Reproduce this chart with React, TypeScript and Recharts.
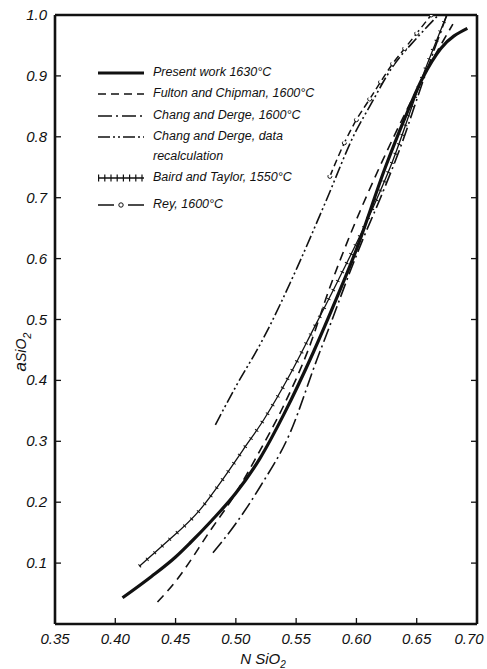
import { LineChart, Line, XAxis, YAxis } from "recharts";

const FONT = '"Liberation Sans", Arial, sans-serif';
const INK = "#111";

// axis ticks
const xTicks = [0.35, 0.4, 0.45, 0.5, 0.55, 0.6, 0.65, 0.7];
const topTicks = [0.4, 0.45, 0.5, 0.55, 0.6, 0.65];
const yTicks = [0.1, 0.2, 0.3, 0.4, 0.5, 0.6, 0.7, 0.8, 0.9, 1.0];

// Present work 1630°C
const presentX = [0.406, 0.43, 0.45, 0.462, 0.48, 0.5, 0.52, 0.54, 0.564, 0.584, 0.6, 0.624, 0.64, 0.655, 0.67, 0.692];
const presentY = [0.043, 0.078, 0.11, 0.133, 0.17, 0.215, 0.272, 0.345, 0.445, 0.537, 0.615, 0.75, 0.83, 0.897, 0.945, 0.978];

// Fulton and Chipman, 1600°C
const fultonX = [0.435, 0.45, 0.479, 0.5, 0.517, 0.54, 0.56, 0.578, 0.595, 0.618, 0.642, 0.66, 0.68];
const fultonY = [0.036, 0.07, 0.154, 0.215, 0.274, 0.36, 0.45, 0.553, 0.64, 0.745, 0.845, 0.915, 0.985];

// Chang and Derge, 1600°C
const changX = [0.481, 0.5, 0.52, 0.545, 0.567, 0.578, 0.595, 0.605, 0.62, 0.636, 0.655, 0.675];
const changY = [0.117, 0.165, 0.225, 0.314, 0.433, 0.49, 0.58, 0.63, 0.7, 0.78, 0.89, 1.0];

// Chang and Derge, data recalculation
const recalcX = [0.483, 0.5, 0.522, 0.551, 0.574, 0.6, 0.611, 0.63, 0.65, 0.668];
const recalcY = [0.327, 0.39, 0.466, 0.586, 0.691, 0.811, 0.85, 0.915, 0.962, 1.0];

// Baird and Taylor, 1550°C
const bairdX = [0.42, 0.44, 0.47, 0.49, 0.506, 0.523, 0.545, 0.564, 0.585, 0.609, 0.63, 0.655, 0.675];
const bairdY = [0.095, 0.13, 0.187, 0.24, 0.286, 0.335, 0.41, 0.483, 0.565, 0.663, 0.76, 0.9, 1.0];

// Rey, 1600°C
const reyX = [0.578, 0.59, 0.6, 0.611, 0.62, 0.63, 0.64, 0.65, 0.662];
const reyY = [0.735, 0.79, 0.828, 0.862, 0.89, 0.92, 0.945, 0.97, 1.0];

const zip = (xs: number[], ys: number[]) => xs.map((x, i) => ({ x, y: ys[i] }));

const present = zip(presentX, presentY);
const fulton = zip(fultonX, fultonY);
const chang = zip(changX, changY);
const recalc = zip(recalcX, recalcY);
const baird = zip(bairdX, bairdY);
const rey = zip(reyX, reyY);

const M = 8; // tickMargin used on every axis
const TL = 6; // inward tick length

const BottomTick = ({ x, y, payload }: any) => {
  const ay = y - M;
  const v = Number(payload.value);
  // the last label sits a little left so it stays inside the page
  const tx = v >= 0.7 ? x - 8 : x;
  return (
    <g>
      <line x1={x} x2={x} y1={ay} y2={ay - TL} stroke={INK} strokeWidth={1.3} />
      <text x={tx} y={ay + 20} textAnchor="middle" fontSize={15} fontStyle="italic" fontFamily={FONT} fill={INK}>
        {v.toFixed(2)}
      </text>
    </g>
  );
};

const TopTick = ({ x, y }: any) => {
  const ay = y + M;
  return <line x1={x} x2={x} y1={ay} y2={ay + TL} stroke={INK} strokeWidth={1.3} />;
};

const LeftTick = ({ x, y, payload }: any) => {
  const ax = x + M;
  return (
    <g>
      <line x1={ax} x2={ax + TL} y1={y} y2={y} stroke={INK} strokeWidth={1.3} />
      <text x={ax - 8} y={y + 5} textAnchor="end" fontSize={15} fontStyle="italic" fontFamily={FONT} fill={INK}>
        {Number(payload.value).toFixed(1)}
      </text>
    </g>
  );
};

const RightTick = ({ x, y }: any) => {
  const ax = x - M;
  return <line x1={ax} x2={ax - TL} y1={y} y2={y} stroke={INK} strokeWidth={1.3} />;
};

const legendRows = [
  { label: "Present work 1630°C", top: 73, kind: "present" },
  { label: "Fulton and Chipman, 1600°C", top: 94, kind: "fulton" },
  { label: "Chang and Derge, 1600°C", top: 116, kind: "chang" },
  { label: "Chang and Derge, data", top: 137, kind: "recalc" },
  { label: "recalculation", top: 157, kind: "none" },
  { label: "Baird and Taylor, 1550°C", top: 178, kind: "baird" },
  { label: "Rey, 1600°C", top: 205, kind: "rey" },
];

const Sample = ({ kind }: { kind: string }) => {
  if (kind === "none") return null;
  const common = { x1: 1, x2: 47, y1: 6, y2: 6, stroke: INK };
  return (
    <svg width={48} height={12} style={{ position: "absolute", left: 97, top: -6 }}>
      {kind === "present" && <line {...common} strokeWidth={3} />}
      {kind === "fulton" && <line {...common} strokeWidth={1.6} strokeDasharray="8 5" />}
      {kind === "chang" && <line {...common} strokeWidth={1.6} strokeDasharray="14 4 2 4" />}
      {kind === "recalc" && <line {...common} strokeWidth={1.6} strokeDasharray="12 3 2 3 2 3" />}
      {kind === "baird" && (
        <g>
          <line {...common} strokeWidth={1.4} />
          <line {...common} strokeWidth={7} strokeDasharray="1.2 5" />
        </g>
      )}
      {kind === "rey" && (
        <g>
          <line {...common} strokeWidth={1.6} strokeDasharray="16 14 17" />
          <circle cx={24} cy={6} r={2.2} fill="#fff" stroke={INK} strokeWidth={1} />
        </g>
      )}
    </svg>
  );
};

export default function App() {
  return (
    <div style={{ position: "absolute", left: 0, top: 0, width: 487, height: 669, background: "#fff" }}>
      <LineChart width={487} height={669} margin={{ top: 0, right: 0, bottom: 0, left: 0 }}>
        <XAxis
          xAxisId={0}
          dataKey="x"
          type="number"
          domain={[0.35, 0.7]}
          allowDataOverflow
          ticks={xTicks}
          interval={0}
          height={45}
          tickSize={0}
          tickMargin={M}
          tick={<BottomTick />}
          axisLine={{ stroke: INK, strokeWidth: 2.6 }}
        />
        <XAxis
          xAxisId="top"
          orientation="top"
          type="number"
          domain={[0.35, 0.7]}
          allowDataOverflow
          ticks={topTicks}
          interval={0}
          height={15}
          tickSize={0}
          tickMargin={M}
          tick={<TopTick />}
          axisLine={{ stroke: INK, strokeWidth: 2.6 }}
        />
        <YAxis
          yAxisId={0}
          type="number"
          domain={[0, 1]}
          allowDataOverflow
          ticks={yTicks}
          interval={0}
          width={55}
          tickSize={0}
          tickMargin={M}
          tick={<LeftTick />}
          axisLine={{ stroke: INK, strokeWidth: 2.6 }}
        />
        <YAxis
          yAxisId="right"
          orientation="right"
          type="number"
          domain={[0, 1]}
          allowDataOverflow
          ticks={yTicks}
          interval={0}
          width={10}
          tickSize={0}
          tickMargin={M}
          tick={<RightTick />}
          axisLine={{ stroke: INK, strokeWidth: 2.6 }}
        />
        <Line data={recalc} dataKey="y" type="monotone" stroke={INK} strokeWidth={1.6} strokeDasharray="12 3 2 3 2 3" dot={false} isAnimationActive={false} />
        <Line
          data={rey}
          dataKey="y"
          type="monotone"
          stroke={INK}
          strokeWidth={1.5}
          strokeDasharray="7 4"
          dot={{ r: 2, fill: "#fff", stroke: INK, strokeWidth: 1 }}
          isAnimationActive={false}
        />
        <Line data={chang} dataKey="y" type="monotone" stroke={INK} strokeWidth={1.6} strokeDasharray="14 4 2 4" dot={false} isAnimationActive={false} />
        <Line data={fulton} dataKey="y" type="monotone" stroke={INK} strokeWidth={1.6} strokeDasharray="9 6" dot={false} isAnimationActive={false} />
        <Line data={baird} dataKey="y" type="monotone" stroke={INK} strokeWidth={1.3} dot={false} isAnimationActive={false} />
        <Line data={baird} dataKey="y" type="monotone" stroke={INK} strokeWidth={4} strokeDasharray="1 9" dot={false} isAnimationActive={false} legendType="none" />
        <Line data={present} dataKey="y" type="monotone" stroke={INK} strokeWidth={3.2} dot={false} isAnimationActive={false} />
      </LineChart>

      {legendRows.map((r) => (
        <div key={r.label} style={{ position: "absolute", left: 0, top: r.top, width: 487, height: 0 }}>
          <Sample kind={r.kind} />
          <span
            style={{
              position: "absolute",
              left: 153,
              top: -9,
              fontFamily: FONT,
              fontStyle: "italic",
              fontSize: 12.5,
              lineHeight: "16px",
              whiteSpace: "nowrap",
              color: INK,
            }}
          >
            {r.label}
          </span>
        </div>
      ))}

      <div
        style={{
          position: "absolute",
          left: 22,
          top: 352,
          transform: "translate(-50%, -50%) rotate(-90deg)",
          fontFamily: FONT,
          fontStyle: "italic",
          fontSize: 17,
          whiteSpace: "nowrap",
          color: INK,
        }}
      >
        a<span style={{ fontSize: 14 }}>SiO</span>
        <sub style={{ fontSize: 11 }}>2</sub>
      </div>
      <div
        style={{
          position: "absolute",
          left: 263,
          top: 660,
          transform: "translate(-50%, -50%)",
          fontFamily: FONT,
          fontStyle: "italic",
          fontSize: 15,
          whiteSpace: "nowrap",
          color: INK,
        }}
      >
        N SiO<sub style={{ fontSize: 10 }}>2</sub>
      </div>
    </div>
  );
}
